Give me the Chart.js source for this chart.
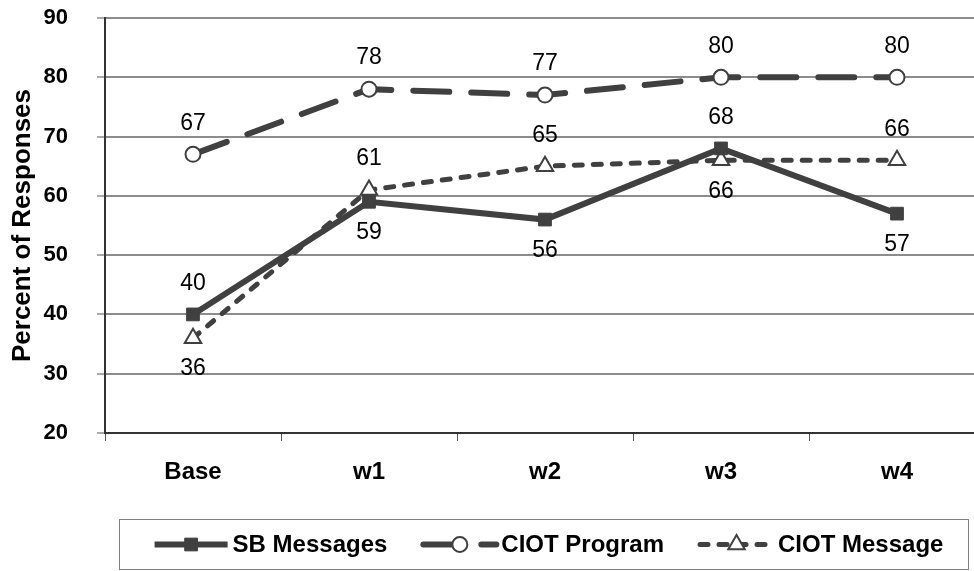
<!DOCTYPE html>
<html>
<head>
<meta charset="utf-8">
<script src="https://cdn.jsdelivr.net/npm/chart.js@4/dist/chart.umd.min.js"></script>
<style>
  html, body { margin: 0; padding: 0; background: #fff; overflow: hidden; }
  #wrap { width: 985px; height: 571px; }
</style>
</head>
<body>
<!-- the plot frame runs a little past the visible right edge -->
<div id="wrap"><canvas id="c" width="985" height="571"></canvas></div>
<script>
// Survey waves and the share of responses per condition
const categories = ['Base', 'w1', 'w2', 'w3', 'w4'];
const sbMessages = [40, 59, 56, 68, 57];
const ciotProgram = [67, 78, 77, 80, 80];
const ciotMessage = [36, 61, 65, 66, 66];
const seriesNames = ['SB Messages', 'CIOT Program', 'CIOT Message'];
const yRange = [20, 90];
const yStep = 10;
const yTitle = 'Percent of Responses';

const FONT = "'Liberation Sans', Arial, Helvetica, sans-serif";
const INK = '#404040';

// Writes each point's value above or below its marker
const valueLabels = {
  id: 'valueLabels',
  afterDatasetsDraw(chart) {
    const ctx = chart.ctx;
    ctx.save();
    ctx.font = `23px ${FONT}`;
    ctx.fillStyle = '#000';
    ctx.textAlign = 'center';
    ctx.textBaseline = 'middle';
    chart.data.datasets.forEach((ds, i) => {
      const meta = chart.getDatasetMeta(i);
      meta.data.forEach((pt, j) => {
        const dy = ds.labelSide[j] === 'above' ? -31 : 31;
        ctx.fillText(String(Math.round(ds.data[j])), pt.x, pt.y + dy);
      });
    });
    ctx.restore();
  }
};

// Boxed legend under the plot, with dashed line samples and markers
const boxLegend = {
  id: 'boxLegend',
  afterDraw(chart) {
    const ctx = chart.ctx;
    const box = { x: 119.5, y: 519.5, w: 849, h: 50 };
    ctx.save();
    ctx.strokeStyle = '#808080';
    ctx.lineWidth = 1;
    ctx.strokeRect(box.x, box.y, box.w, box.h);
    ctx.font = `bold 24px ${FONT}`;
    const sampleW = 73, gap = 5, spacing = 36;
    const items = chart.data.datasets.map(ds => ({ ds, tw: ctx.measureText(ds.label).width }));
    const total = items.reduce((s, it) => s + sampleW + gap + it.tw, 0) + spacing * (items.length - 1);
    let x = box.x + box.w / 2 - total / 2 + 5;
    const cy = box.y + box.h / 2;
    items.forEach(it => {
      const ds = it.ds;
      ctx.save();
      ctx.strokeStyle = ds.borderColor;
      ctx.lineWidth = ds.borderWidth;
      ctx.lineCap = ds.borderCapStyle || 'butt';
      ctx.setLineDash(ds.borderDash || []);
      ctx.beginPath();
      ctx.moveTo(x, cy);
      ctx.lineTo(x + sampleW, cy);
      ctx.stroke();
      ctx.setLineDash([]);
      ctx.fillStyle = ds.pointBackgroundColor;
      ctx.strokeStyle = ds.pointBorderColor;
      ctx.lineWidth = ds.pointBorderWidth;
      Chart.helpers.drawPoint(ctx, {
        pointStyle: ds.pointStyle, radius: ds.pointRadius,
        borderWidth: ds.pointBorderWidth, rotation: 0
      }, x + sampleW / 2, cy);
      ctx.restore();
      ctx.fillStyle = '#000';
      ctx.textAlign = 'left';
      ctx.textBaseline = 'middle';
      ctx.fillText(ds.label, x + sampleW + gap, cy + 1);
      x += sampleW + gap + it.tw + spacing;
    });
    ctx.restore();
  }
};

new Chart(document.getElementById('c'), {
  type: 'line',
  data: {
    labels: categories,
    datasets: [
      {
        label: seriesNames[0], data: sbMessages,
        borderColor: INK, borderWidth: 6,
        pointStyle: 'rect', pointRadius: 9,
        pointBackgroundColor: INK, pointBorderColor: INK, pointBorderWidth: 1,
        labelSide: ['above', 'below', 'below', 'above', 'below']
      },
      {
        label: seriesNames[1], data: ciotProgram,
        borderColor: INK, borderWidth: 6, borderDash: [36, 22], borderCapStyle: 'round',
        pointStyle: 'circle', pointRadius: 7.5,
        pointBackgroundColor: '#fff', pointBorderColor: INK, pointBorderWidth: 2,
        labelSide: ['above', 'above', 'above', 'above', 'above']
      },
      {
        label: seriesNames[2], data: ciotMessage,
        borderColor: INK, borderWidth: 5, borderDash: [8, 11], borderCapStyle: 'round',
        pointStyle: 'triangle', pointRadius: 9.5,
        pointBackgroundColor: '#fff', pointBorderColor: INK, pointBorderWidth: 2,
        labelSide: ['below', 'above', 'above', 'below', 'above']
      }
    ]
  },
  options: {
    responsive: false,
    animation: false,
    devicePixelRatio: 1,
    layout: { autoPadding: false, padding: { left: 0, right: 0, top: 18, bottom: 78 } },
    plugins: { legend: { display: false }, tooltip: { enabled: false } },
    elements: { line: { tension: 0 } },
    scales: {
      x: {
        offset: true,
        grid: { offset: true, drawOnChartArea: false, drawTicks: true, tickLength: 8, tickColor: '#555', tickWidth: 1 },
        border: { display: true, color: '#333', width: 2 },
        ticks: { font: { family: FONT, size: 24, weight: 'bold' }, color: '#000', padding: 17, maxRotation: 0, autoSkip: false },
        afterFit(s) {
          s.height = 60;
          s.paddingLeft = 0; s.paddingRight = 0;
        }
      },
      y: {
        min: yRange[0], max: yRange[1],
        grid: { color: '#8c8c8c', lineWidth: 2, tickLength: 8, tickColor: '#555', tickWidth: 1 },
        border: { display: true, color: '#333', width: 2 },
        ticks: { stepSize: yStep, font: { family: FONT, size: 22, weight: 'bold' }, color: '#000', padding: 29 },
        title: {
          display: true, text: yTitle, color: '#000',
          font: { family: FONT, size: 26, weight: 'bold' },
          padding: { top: 7, bottom: 0 }
        },
        afterFit(s) {
          s.width = 105;
          s.paddingTop = 0; s.paddingBottom = 0;
        }
      }
    }
  },
  plugins: [valueLabels, boxLegend]
});
</script>
</body>
</html>
